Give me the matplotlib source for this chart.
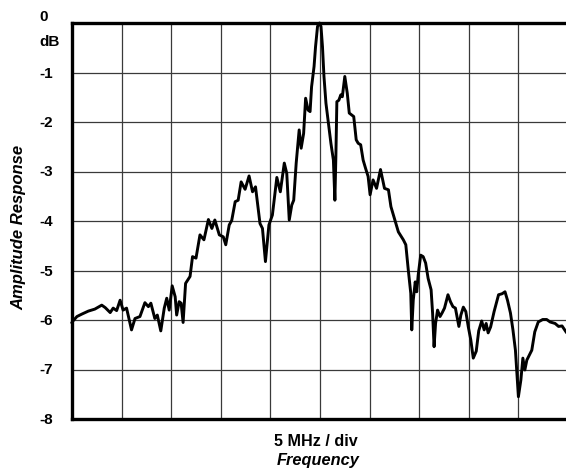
import matplotlib
matplotlib.use("Agg")
import matplotlib.pyplot as plt
import matplotlib.transforms as mtransforms

# Frequency in divisions (5 MHz / div) and amplitude response in dB
freq_div = [
    0.00, 0.01, 0.10, 0.20, 0.33, 0.46, 0.60, 0.67, 0.77, 0.83, 0.90, 0.97,
    1.03, 1.10, 1.20, 1.27, 1.37, 1.47, 1.54, 1.59, 1.67, 1.72, 1.79, 1.86,
    1.91, 1.96, 2.02, 2.08, 2.11, 2.16, 2.20, 2.24, 2.29, 2.38, 2.43, 2.50,
    2.58, 2.66, 2.75, 2.82, 2.88, 2.97, 3.05, 3.10, 3.17, 3.22, 3.29, 3.35,
    3.41, 3.49, 3.57, 3.64, 3.70, 3.79, 3.84, 3.90, 3.97, 4.04, 4.13, 4.20,
    4.28, 4.33, 4.38, 4.43, 4.47, 4.52, 4.58, 4.62, 4.67, 4.71, 4.76, 4.80,
    4.83, 4.88, 4.91, 4.95, 4.99, 5.02, 5.05, 5.08, 5.12, 5.17, 5.22, 5.27,
    5.30, 5.32, 5.34, 5.38, 5.42, 5.45, 5.50, 5.55, 5.59, 5.64, 5.68, 5.73,
    5.77, 5.82, 5.87, 5.92, 5.97, 6.01, 6.07, 6.14, 6.22, 6.30, 6.38, 6.43,
    6.51, 6.58, 6.68, 6.73, 6.78, 6.83, 6.85, 6.88, 6.92, 6.95, 6.98, 7.03,
    7.08, 7.13, 7.18, 7.24, 7.27, 7.30, 7.33, 7.37, 7.42, 7.46, 7.51, 7.58,
    7.63, 7.68, 7.73, 7.80, 7.84, 7.89, 7.94, 7.99, 8.04, 8.09, 8.15, 8.20,
    8.26, 8.31, 8.35, 8.39, 8.44, 8.51, 8.60, 8.67, 8.73, 8.78, 8.84, 8.89,
    8.94, 8.97, 9.00, 9.05, 9.09, 9.13, 9.17, 9.22, 9.27, 9.33, 9.40, 9.49,
    9.57, 9.64, 9.74, 9.81, 9.88, 9.96,
]
amp_db = [
    -6.05, -6.03, -5.93, -5.88, -5.82, -5.78, -5.70, -5.75, -5.85, -5.76, -5.81, -5.60,
    -5.80, -5.76, -6.20, -5.97, -5.93, -5.65, -5.73, -5.66, -5.97, -5.90, -6.22, -5.76,
    -5.56, -5.80, -5.31, -5.53, -5.90, -5.63, -5.66, -6.05, -5.26, -5.12, -4.72, -4.75,
    -4.28, -4.38, -3.97, -4.15, -3.98, -4.28, -4.32, -4.48, -4.08, -3.99, -3.61, -3.58,
    -3.21, -3.36, -3.09, -3.41, -3.31, -4.05, -4.15, -4.82, -4.08, -3.88, -3.12, -3.41,
    -2.83, -3.04, -3.98, -3.68, -3.58, -2.83, -2.16, -2.53, -2.23, -1.52, -1.76, -1.79,
    -1.29, -0.88, -0.48, -0.07, 0.00, -0.07, -0.48, -1.08, -1.62, -2.03, -2.43, -2.77,
    -3.58, -2.70, -1.59, -1.56, -1.45, -1.49, -1.08, -1.42, -1.82, -1.86, -1.89, -2.36,
    -2.43, -2.46, -2.77, -2.94, -3.10, -3.47, -3.17, -3.34, -2.96, -3.34, -3.37, -3.71,
    -3.98, -4.22, -4.38, -4.48, -4.99, -5.46, -6.20, -5.60, -5.23, -5.43, -5.09, -4.69,
    -4.72, -4.85, -5.16, -5.39, -5.86, -6.54, -6.07, -5.80, -5.93, -5.86, -5.76, -5.49,
    -5.63, -5.73, -5.76, -6.13, -5.90, -5.74, -5.83, -6.14, -6.40, -6.77, -6.63, -6.22,
    -6.02, -6.20, -6.07, -6.26, -6.14, -5.83, -5.49, -5.47, -5.43, -5.60, -5.86, -6.20,
    -6.61, -7.08, -7.55, -7.21, -6.77, -7.01, -6.81, -6.71, -6.61, -6.24, -6.04, -5.99,
    -5.99, -6.04, -6.07, -6.13, -6.12, -6.24,
]

y_ticks = [-1, -2, -3, -4, -5, -6, -7, -8]
y_tick_labels = ["-1", "-2", "-3", "-4", "-5", "-6", "-7", "-8"]
x_grid = [1, 2, 3, 4, 5, 6, 7, 8, 9]

W, H = 566, 468
fig = plt.figure(figsize=(W / 100, H / 100), dpi=100)
plt.rcParams["font.family"] = ["Liberation Sans", "DejaVu Sans"]

left_px, right_px, top_px, bottom_px = 72, 566, 23, 419
ax = fig.add_axes([left_px / W, 1 - bottom_px / H,
                   (right_px - left_px) / W, (bottom_px - top_px) / H])
ax.set_xlim(0, (right_px - left_px) / 49.6)
ax.set_ylim(-8, 0)

for xv in x_grid:
    ax.axvline(xv, color="#3a3a3a", lw=0.9, zorder=1)
for yv in y_ticks[:-1]:
    ax.axhline(yv, color="#3a3a3a", lw=0.9, zorder=1)

ax.plot(freq_div, amp_db, color="black", lw=2.1, zorder=3,
        solid_joinstyle="round", clip_on=False)

for s in ["top", "bottom", "left"]:
    ax.spines[s].set_linewidth(2.4)
ax.spines["right"].set_visible(False)

ax.set_xticks([])
ax.set_yticks([])

# y tick labels, left-aligned like the reference
lab_x = 39 / W
blend = mtransforms.blended_transform_factory(fig.transFigure, ax.transData)
offset = mtransforms.ScaledTranslation(0, -1 / 100, fig.dpi_scale_trans)
for yv, lab in zip(y_ticks, y_tick_labels):
    fig.text(lab_x, yv, lab, transform=blend + offset, ha="left",
             va="center", fontsize=11, fontweight="bold")

# "0" and "dB" labels at the top of the y axis
fig.text(lab_x, 1 - 17 / H, "0", ha="left", va="center",
         fontsize=11, fontweight="bold")
fig.text(lab_x, 1 - 42 / H, "dB", ha="left", va="center",
         fontsize=11, fontweight="bold")

fig.text(19 / W, 1 - 227 / H, "Amplitude Response", rotation=90,
         ha="center", va="center", fontsize=12, fontweight="bold",
         fontstyle="italic")
fig.text(316 / W, 1 - 441 / H, "5 MHz / div", ha="center", va="center",
         fontsize=11.6, fontweight="bold")
fig.text(318 / W, 1 - 460 / H, "Frequency", ha="center", va="center",
         fontsize=11.8, fontweight="bold", fontstyle="italic")

fig.savefig("out.png", dpi=100)
